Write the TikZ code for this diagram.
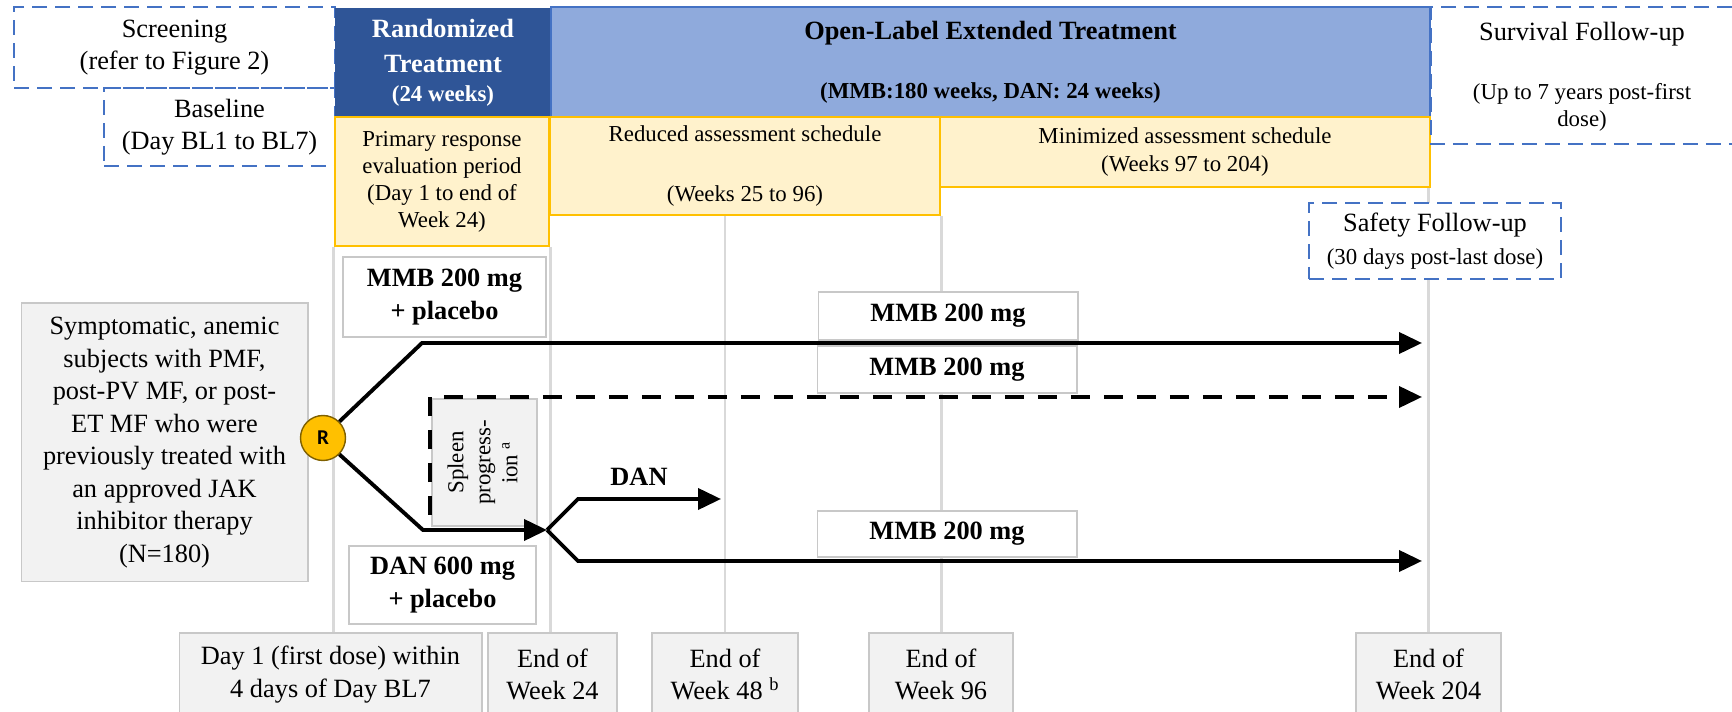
\documentclass[tikz,border=0pt]{standalone}
\usepackage{fontspec}
\setmainfont{Liberation Serif}
\newfontfamily\rfont{Carlito}
\usetikzlibrary{arrows.meta,backgrounds}

\definecolor{randblue}{HTML}{2F5597}
\definecolor{olfill}{HTML}{8FAADC}
\definecolor{olline}{HTML}{4472C4}
\definecolor{evalfill}{HTML}{FFF2CC}
\definecolor{evalline}{HTML}{FFC000}
\definecolor{boxgrey}{HTML}{F2F2F2}
\definecolor{boxline}{HTML}{C8C8C8}
\definecolor{tickgrey}{HTML}{D9D9D9}
\definecolor{rline}{HTML}{7F6000}

\newcommand{\smtxt}{\fontsize{13}{15.4}\selectfont}

\tikzset{
  txtL/.style={font=\fontsize{15}{18.5}\selectfont},
  txtS/.style={font=\fontsize{13}{15.4}\selectfont},
  txtB/.style={font=\bfseries\fontsize{15}{18.5}\selectfont},
  phase/.style={draw=olline, dash pattern=on 0.3cm off 0.16cm, line width=1.1pt, align=center, inner sep=0pt},
  evalbox/.style={draw=evalline, fill=evalfill, line width=1.4pt, align=center, inner sep=0pt},
  greybox/.style={draw=boxline, fill=boxgrey, line width=0.6pt, align=center, inner sep=0pt},
  whitebox/.style={draw=boxline, fill=white, line width=0.6pt, align=center, inner sep=0pt},
  arm/.style={line width=2.2pt, -{Triangle[length=0.46cm,width=0.42cm]}},
  timeline/.style={draw=tickgrey, line width=1.7pt},
}

\begin{document}
\begin{tikzpicture}[x=0.02cm, y=-0.02cm]
  \useasboundingbox (0,0) rectangle (1732,712);

  % Study phases
  \node[phase, txtL, minimum width=6.42cm, minimum height=1.62cm] (scr) at (174.5,47.5) {Screening\\(refer to Figure 2)};
  \node[phase, txtL, minimum width=4.62cm, minimum height=1.56cm] (bsl) at (219.5,127) {Baseline\\(Day BL1 to BL7)};

  \node[fill=randblue, draw=randblue, text=white, txtB, align=center, inner sep=0pt,
        minimum width=4.32cm, minimum height=2.2cm] (rand) at (443,63) {Randomized\\[1.5pt]Treatment\\[-2pt]\smtxt (24 weeks)};
  \node[fill=olfill, draw=olline, line width=1.2pt, txtB, align=center, inner sep=0pt,
        minimum width=17.58cm, minimum height=2.2cm] (ole) at (990.5,62) {Open-Label Extended Treatment\\[15pt]\smtxt (MMB:180 weeks, DAN: 24 weeks)};

  \node[evalbox, txtS, minimum width=4.28cm, minimum height=2.58cm] (prim) at (442,181.5) {Primary response\\evaluation period\\(Day 1 to end of\\Week 24)};
  \node[evalbox, txtS, minimum width=7.8cm, minimum height=1.96cm] (red) at (745,166) {Reduced assessment schedule\\[19pt](Weeks 25 to 96)};
  \node[evalbox, txtS, minimum width=9.8cm, minimum height=1.4cm] (mini) at (1185,152) {Minimized assessment schedule\\[1pt](Weeks 97 to 204)};

  \draw[phase] (1732,7) -- (1431,7) -- (1431,144) -- (1732,144);
  \node[txtL, align=center] (surv) at (1582,77) {Survival Follow-up\\[15pt]\smtxt (Up to 7 years post-first\\[-3pt]\smtxt dose)};
  \node[phase, txtL, fill=white, minimum width=5.04cm, minimum height=1.52cm] (safe) at (1435,241) {Safety Follow-up\\\smtxt (30 days post-last dose)};

  % Timepoints
  \node[greybox, txtL, minimum width=6.06cm, minimum height=1.66cm] (day1) at (330.5,674.5) {Day 1 (first dose) within\\4 days of Day BL7};
  \node[greybox, txtL, minimum width=2.58cm, minimum height=1.66cm] (w24) at (552.5,674.5) {End of\\Week 24};
  \node[greybox, txtL, minimum width=2.92cm, minimum height=1.66cm] (w48) at (725,674.5) {End of\\Week 48 \textsuperscript{b}};
  \node[greybox, txtL, minimum width=2.88cm, minimum height=1.66cm] (w96) at (941,674.5) {End of\\Week 96};
  \node[greybox, txtL, minimum width=2.9cm, minimum height=1.66cm] (w204) at (1428.5,674.5) {End of\\Week 204};

  \begin{scope}[on background layer]
    \draw[timeline] (prim.south west) -- (prim.south west |- day1.north);
    \draw[timeline] (prim.south east) -- (prim.south east |- w24.north);
    \draw[timeline] (w48.north) -- (w48.north |- red.south);
    \draw[timeline] (red.south east) -- (red.south east |- w96.north);
    \draw[timeline] (w204.north) -- (w204.north |- mini.south);
  \end{scope}

  % Subjects and arms
  \node[greybox, txtL, minimum width=5.74cm, minimum height=5.58cm] (pat) at (164.5,442.5) {Symptomatic, anemic\\subjects with PMF,\\post-PV MF, or post-\\ET MF who were\\previously treated with\\an approved JAK\\inhibitor therapy\\(N=180)};
  \node[whitebox, txtB, minimum width=4.06cm, minimum height=1.6cm] (mmbpl) at (444.5,297) {MMB 200 mg\\+ placebo};
  \node[whitebox, txtB, minimum width=3.74cm, minimum height=1.56cm] (danpl) at (442.5,585) {DAN 600 mg\\+ placebo};
  \node[greybox, txtS, rotate=90, minimum width=2.54cm, minimum height=2.1cm] (spl) at (484.5,462.5) {Spleen\\progress-\\ion \textsuperscript{a}\hspace*{0pt}\\[-13pt]};

  \node[whitebox, txtB, minimum width=5.2cm, minimum height=0.96cm] (mmba) at (948,316) {MMB 200 mg};
  \node[whitebox, txtB, minimum width=5.2cm, minimum height=0.94cm] (mmbb) at (947,369.5) {MMB 200 mg};
  \node[whitebox, txtB, minimum width=5.2cm, minimum height=0.92cm] (mmbc) at (947,534) {MMB 200 mg};
  \node[txtB] (dan) at (639,477) {DAN};

  \node[circle, draw=rline, fill=evalline, line width=0.8pt, minimum size=0.9cm, inner sep=0pt,
        font=\rfont\bfseries\fontsize{12}{14}\selectfont] (rnd) at (323,438) {R};

  % Arrows
  \coordinate (upbend) at (422,343);
  \coordinate (upend) at (1422,343);
  \coordinate (lobend) at (423,530);
  \coordinate (jn) at (547,530);
  \coordinate (danbend) at (578,499);
  \coordinate (danend) at (721,499);
  \coordinate (mmbbend) at (578,561);
  \coordinate (mmbend) at (1422,561);
  \coordinate (spbot) at (430,515);
  \coordinate (sptop) at (430,397);
  \coordinate (spend) at (1422,397);

  \draw[arm] (rnd.north east) -- (upbend) -- (upend);
  \draw[arm] (rnd.south east) -- (lobend) -- (jn);
  \draw[arm] (jn) -- (danbend) -- (danend);
  \draw[arm] (jn) -- (mmbbend) -- (mmbend);
  \draw[arm, dash pattern=on 0.38cm off 0.28cm] (spbot) -- (sptop) -- (spend);

\end{tikzpicture}
\end{document}
